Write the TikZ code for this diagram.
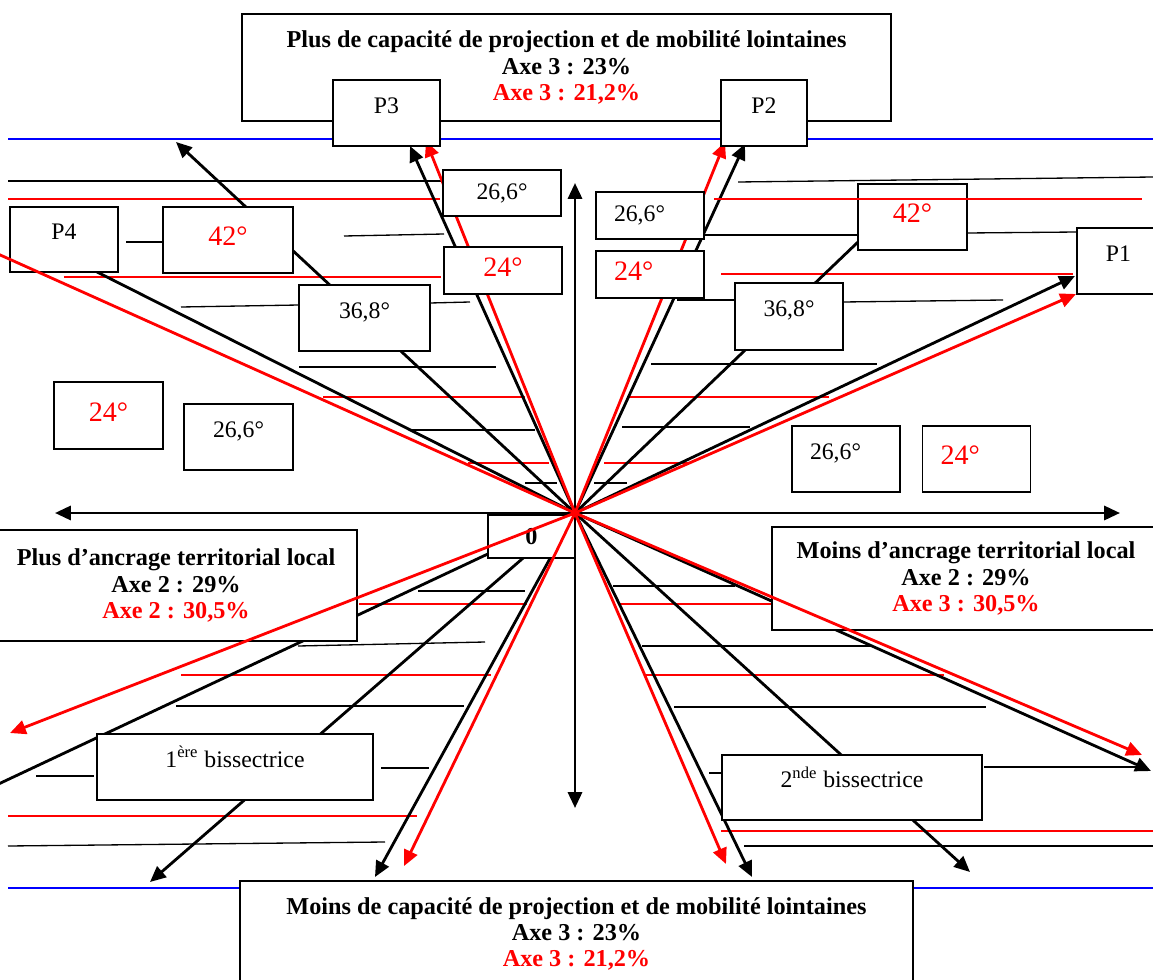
\documentclass[tikz,border=0pt]{standalone}
\usepackage{fontspec}
\setmainfont{Liberation Serif}
\usetikzlibrary{arrows.meta}

\begin{document}
\begin{tikzpicture}[x=0.02cm, y=-0.02cm]
    \tikzstyle{cadre} = [rectangle, draw=black, line width=0.75pt, fill=white, inner sep=0pt, font=\fontsize{13.5}{15}\selectfont]
    \tikzstyle{haut} = [text height=9pt, text depth=9pt]
    \tikzstyle{gauche} = [inner xsep=0.36cm, text width=1.44cm, align=left]
    \tikzstyle{degre} = [cadre, text=red, font=\fontsize{16}{18}\selectfont, text depth=4pt]
    \tikzstyle{titre} = [cadre, align=center, font=\bfseries\fontsize{13.8}{15}\selectfont]
    \tikzstyle{fleche} = [-{Triangle[length=9pt,width=8pt]}, line width=1.6pt]
    \tikzstyle{axe} = [{Triangle[length=9pt,width=8pt]}-{Triangle[length=9pt,width=8pt]}, line width=1.6pt]
    \tikzstyle{trait} = [line width=0.75pt]

    \useasboundingbox (0,0) rectangle (1153,980);

    % origine et bouts des fleches
    \coordinate (o) at (575,513);
    \coordinate (axeG) at (55,513);
    \coordinate (axeD) at (1120,513);
    \coordinate (axeH) at (575,183);
    \coordinate (axeB) at (575,808);
    \coordinate (nP3) at (410,146);
    \coordinate (nP2) at (745,144);
    \coordinate (nP1) at (1075,276);
    \coordinate (nP4) at (176,142);
    \coordinate (nP4b) at (97,272);
    \coordinate (n42) at (858,242);
    \coordinate (nSO) at (-10,788);
    \coordinate (nS1) at (375,877);
    \coordinate (nS2) at (752,877);
    \coordinate (nB1) at (150,882);
    \coordinate (nB2) at (970,872);
    \coordinate (nSE) at (1151,771);
    \coordinate (rP3) at (426,141);
    \coordinate (rP2) at (725,142);
    \coordinate (rP1) at (1076,294);
    \coordinate (rP4) at (-2,254);
    \coordinate (rSO) at (10,733);
    \coordinate (rS1) at (404,866);
    \coordinate (rS2) at (726,864);
    \coordinate (rSE) at (1142,755);

    % lignes bleues
    \draw[blue, line width=0.6pt] (8,139) -- (1153,139);
    \draw[blue, line width=0.6pt] (8,888) -- (240,888) (913,888) -- (1153,888);

    % traits horizontaux
    \foreach \a/\b/\c/\d in {8/181/443/181, 126/242/163/242, 344/236/444/234, 181/307/299/305,
        430/303/470/302, 299/367/496/367, 409/430/535/430, 525/483/557/483,
        738/182/1153/177, 704/235/858/235, 967/233/1077/232, 677/300/735/300, 843/302/1003/300,
        651/364/877/364, 622/427/750/427, 594/483/627/483,
        418/591/525/591, 298/646/485/642, 176/706/464/706, 36/776/94/776, 381/768/429/768, 8/846/385/842,
        613/586/735/586, 642/646/870/646, 674/707/986/707, 709/773/721/773, 984/767/1143/767, 744/846/1153/846}
        \draw[trait] (\a,\b) -- (\c,\d);
    \foreach \a/\b/\c/\d in {8/199/440/199, 64/277/441/277, 323/397/525/397, 468/463/549/463,
        721/274/1073/274, 627/397/829/397, 604/463/688/463,
        359/604/527/604, 181/675/491/675, 8/816/417/816,
        618/604/771/604, 646/675/944/675, 721/831/1153/831}
        \draw[trait, red] (\a,\b) -- (\c,\d);

    % axes
    \draw[axe] (axeG) -- (axeD);
    \draw[axe] (axeB) -- (axeH);

    % vecteurs noirs
    \draw[fleche] (o) -- (nP3);
    \draw[fleche] (o) -- (nP2);
    \draw[fleche] (o) -- (nP1);
    \draw[fleche] (o) -- (nP4);
    \draw[fleche] (o) -- (nS1);
    \draw[fleche] (o) -- (nS2);
    \draw[fleche] (o) -- (nB1);
    \draw[fleche] (o) -- (nB2);
    \draw[fleche] (o) -- (nSE);
    \draw[line width=1.6pt] (o) -- (nP4b);
    \draw[line width=1.6pt] (o) -- (n42);
    \draw[line width=1.6pt] (o) -- (nSO);
    \draw[fleche, red] (o) -- (rP3);
    \draw[fleche, red] (o) -- (rP2);
    \draw[fleche, red] (o) -- (rP1);

    % cadres
    \node (projplus) [titre, minimum width=12.98cm, minimum height=2.14cm] at (566.5,67.5)
        {Plus de capacité de projection et de mobilité lointaines\\Axe 3 : 23\%\\\textcolor{red}{Axe 3 : 21,2\%}};
    \node (projmoins) [titre, minimum width=13.46cm, minimum height=2.12cm] at (576.5,934)
        {Moins de capacité de projection et de mobilité lointaines\\Axe 3 : 23\%\\\textcolor{red}{Axe 3 : 21,2\%}};
    \node (ancrplus) [titre, minimum width=7.24cm, minimum height=2.22cm] at (176,585.5)
        {Plus d’ancrage territorial local\\Axe 2 : 29\%\\\textcolor{red}{Axe 2 : 30,5\%}};
    \node (ancrmoins) [titre, minimum width=7.76cm, minimum height=2.06cm] at (966,578.5)
        {Moins d’ancrage territorial local\\Axe 2 : 29\%\\\textcolor{red}{Axe 3 : 30,5\%}};
    \node (zero) [cadre, font=\bfseries\fontsize{13.8}{15}\selectfont, minimum width=1.74cm, minimum height=0.86cm] at (531.5,536.5) {0};

    \node (p3) [cadre, haut, minimum width=2.14cm, minimum height=1.32cm] at (386.5,113) {P3};
    \node (p2) [cadre, haut, minimum width=1.72cm, minimum height=1.32cm] at (764,113) {P2};
    \node (p4) [cadre, haut, minimum width=2.16cm, minimum height=1.30cm] at (64,239.5) {P4};
    \node (p1) [cadre, haut, minimum width=1.66cm, minimum height=1.32cm] at (1118.5,261) {P1};

    \node (a42g) [degre, minimum width=2.6cm, minimum height=1.32cm] at (228,240) {42°};
    \node (a26hg) [cadre, minimum width=2.36cm, minimum height=0.92cm] at (502,193) {26,6°};
    \node (a24hg) [degre, minimum width=2.36cm, minimum height=0.94cm] at (503,270.5) {24°};
    \node (a36g) [cadre, haut, minimum width=2.62cm, minimum height=1.32cm] at (364.5,318) {36,8°};
    \node (a24bg) [degre, minimum width=2.18cm, minimum height=1.34cm] at (108.5,415.5) {24°};
    \node (a26bg) [cadre, haut, minimum width=2.18cm, minimum height=1.32cm] at (238.5,437) {26,6°};

    \node (a26hd) [cadre, gauche, minimum height=0.94cm] at (650,215.5) {26,6°};
    \node (a24hd) [degre, gauche, minimum height=0.94cm] at (650,274.5) {24°};
    \node (a42d) [degre, minimum width=2.18cm, minimum height=1.32cm] at (912.5,217) {42°};
    \node (a36d) [cadre, haut, minimum width=2.16cm, minimum height=1.34cm] at (789,316.5) {36,8°};
    \node (a26bd) [cadre, haut, gauche, minimum height=1.32cm] at (846,459) {26,6°};
    \node (a24bd) [degre, gauche, minimum height=1.32cm] at (976.5,459) {24°};

    \node (bis1) [cadre, haut, minimum width=5.52cm, minimum height=1.32cm] at (235,767) {1\textsuperscript{ère} bissectrice};
    \node (bis2) [cadre, haut, minimum width=5.2cm, minimum height=1.30cm] at (852,787.5) {2\textsuperscript{nde} bissectrice};

    % vecteurs rouges par-dessus
    \draw[trait, red] (714,199) -- (1142,199);
    \draw[line width=1.6pt, red] (o) -- (rP4);
    \draw[fleche, red] (o) -- (rSO);
    \draw[fleche, red] (o) -- (rS1);
    \draw[fleche, red] (o) -- (rS2);
    \draw[fleche, red] (o) -- (rSE);
\end{tikzpicture}
\end{document}
